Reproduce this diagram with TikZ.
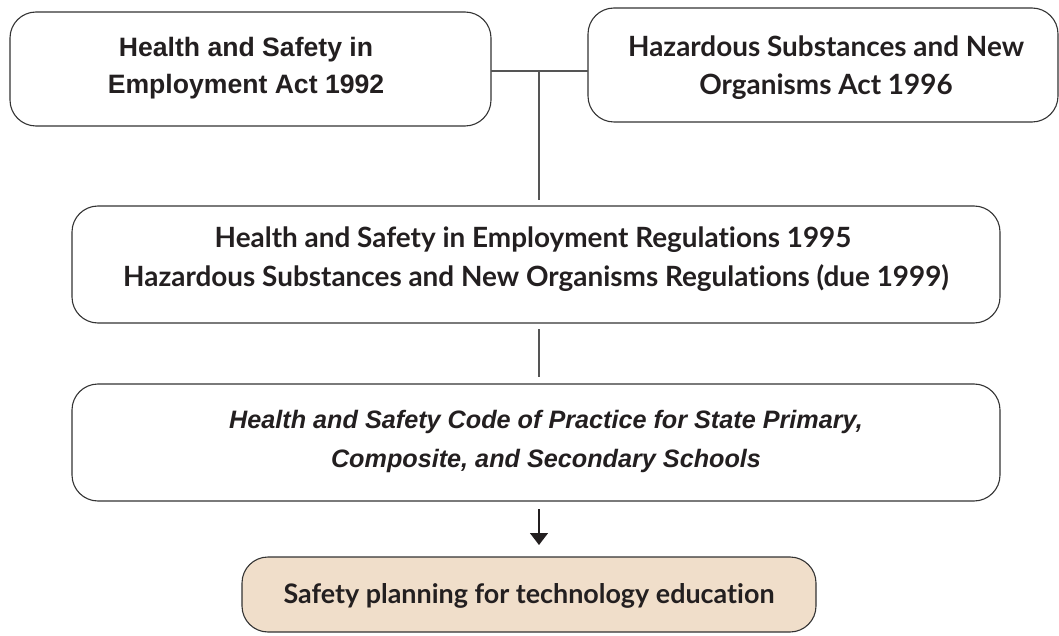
\documentclass[tikz,border=0pt]{standalone}
\usepackage{fontspec}
\setmainfont{Liberation Sans}
\newfontfamily\humanist[Ligatures=NoCommon]{Lato}
\usetikzlibrary{arrows.meta}
\definecolor{ink}{HTML}{231F20}
\definecolor{rule}{HTML}{333333}
\definecolor{wire}{HTML}{555555}
\definecolor{sand}{HTML}{F0DECA}
\tikzset{
  lawbox/.style={draw=rule, line width=1.1bp, rounded corners=26bp},
  lawtext/.style={text=ink, align=center, anchor=base},
  helv/.style={font=\fontsize{26.7}{38}\selectfont\bfseries},
  human/.style={font=\humanist\fontsize{28}{38}\selectfont\bfseries},
  slant/.style={font=\fontsize{25.3}{38}\selectfont\bfseries\itshape},
  wireline/.style={draw=wire, line width=1.3bp},
  span/.style={inner sep=0pt, outer sep=0pt},
}
\begin{document}
\begin{tikzpicture}[x=1bp,y=-1bp]
\useasboundingbox (0,0) rectangle (1059,636);

% boxes
\draw[lawbox] (10,12) rectangle (491,126);
\draw[lawbox] (588,8) rectangle (1058,122);
\draw[lawbox] (72,206) rectangle (1000,323);
\draw[lawbox] (72,384) rectangle (1000,501);
\draw[lawbox, fill=sand] (242,557) rectangle (816,632);

% anchors spanning each box
\node[span, minimum width=481bp, minimum height=114bp] (A) at (250.5,69) {};
\node[span, minimum width=470bp, minimum height=114bp] (B) at (823,65) {};
\node[span, minimum width=928bp, minimum height=117bp] (C) at (536,264.5) {};
\node[span, minimum width=928bp, minimum height=117bp] (D) at (536,442.5) {};
\node[span, minimum width=574bp, minimum height=75bp] (E) at (529,594.5) {};

% texts
\node[lawtext, helv] (a1) at (246,57) {Health and Safety in};
\node[lawtext, helv] (a2) at (246,94) {Employment Act 1992};
\node[lawtext, human] (b1) at (826,57) {Hazardous Substances and New};
\node[lawtext, human] (b2) at (826,95) {Organisms Act 1996};
\node[lawtext, human] (c1) at (533,248) {Health and Safety in Employment Regulations 1995};
\node[lawtext, human] (c2) at (536,287) {Hazardous Substances and New Organisms Regulations (due 1999)};
\node[lawtext, slant] (d1) at (546,428) {Health and Safety Code of Practice for State Primary,};
\node[lawtext, slant] (d2) at (546,467) {Composite, and Secondary Schools};
\node[lawtext, human, font=\humanist\fontsize{27}{38}\selectfont\bfseries] (e1) at (529,603) {Safety planning for technology education};

% connectors
\coordinate (j) at (539,71);
\coordinate (jb) at (539,200);
\coordinate (k1) at (539,329);
\coordinate (k2) at (539,377);
\coordinate (m1) at (539,509);
\coordinate (m2) at (539,545);
\draw[wireline] (A.east |- j) -- (B.west |- j);
\draw[wireline] (j) -- (jb);
\draw[wireline] (k1) -- (k2);
\draw[draw=ink, line width=1.3bp, -{Triangle[length=12bp, width=18bp]}] (m1) -- (m2);
\end{tikzpicture}
\end{document}
